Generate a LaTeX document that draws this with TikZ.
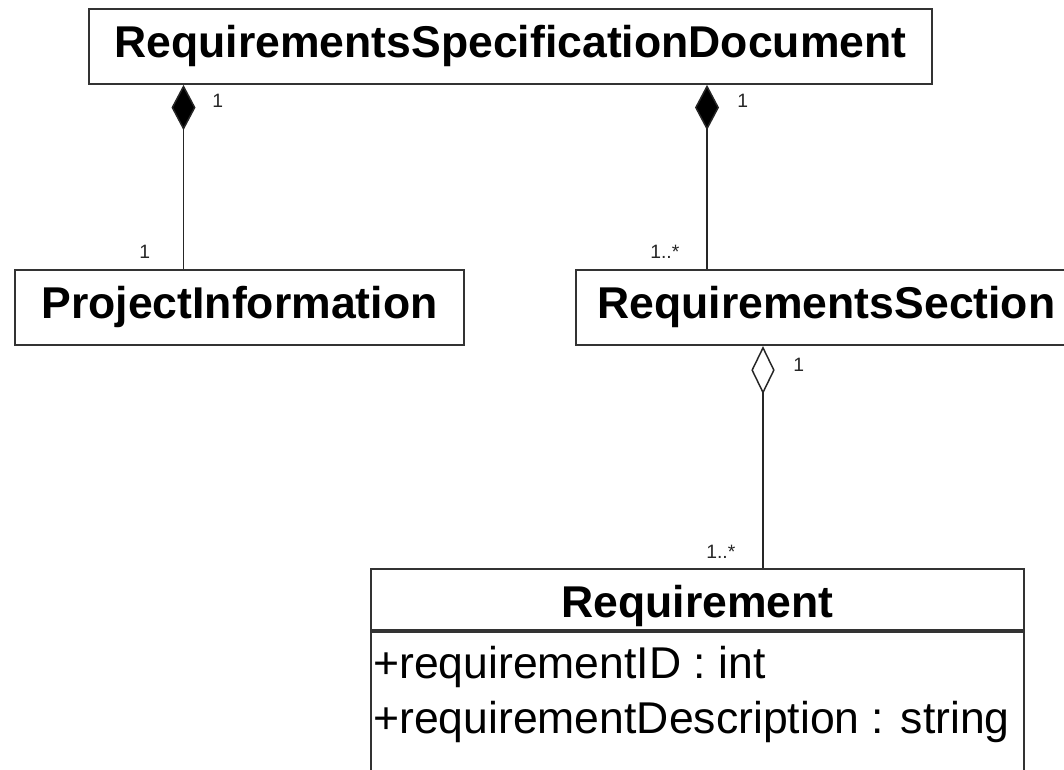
\documentclass[tikz,border=0pt]{standalone}
\usepackage{fontspec}
\setmainfont{Liberation Sans}
\usetikzlibrary{arrows.meta}
\tikzset{
  cls/.style={draw=black!80, line width=1.3pt, inner sep=0pt,
    font=\fontsize{33.4}{40}\selectfont\bfseries},
  attr/.style={inner sep=0pt, anchor=base west, font=\fontsize{33.4}{40}\selectfont},
  mult/.style={inner sep=0pt, anchor=base west, text=black!85,
    font=\fontsize{14.5}{17}\selectfont},
  comp/.style={draw=black!85, line width=1.1pt,
    {Diamond[length=34pt,width=18pt,fill=black]}-},
  aggr/.style={draw=black!85, line width=1.1pt,
    {Diamond[length=36pt,width=17.5pt,fill=white]}-},
}
\begin{document}
\begin{tikzpicture}[x=0.75pt,y=-0.75pt]
\useasboundingbox (0,0) rectangle (1064,770);
\clip (0,0) rectangle (1064,770);
\fill[white] (0,0) rectangle (1064,770);

% classes
\node[cls, minimum width=632.25pt, text height=36.75pt, text depth=19.5pt]
  (doc) at (510.5,46.5) {RequirementsSpecificationDocument};
\node[cls, minimum width=336.75pt, text height=36pt, text depth=20.25pt]
  (pi) at (239.5,307.75) {ProjectInformation};
\node[cls, minimum width=375.75pt, text height=36pt, text depth=20.25pt]
  (rs) at (826.5,307.75) {RequirementsSection};
\node[cls, minimum width=489.75pt, text height=36pt, text depth=9.75pt]
  (req) at (697.5,599.5) {Requirement};
\node[cls, anchor=north, minimum width=489.75pt, minimum height=150pt]
  (reqattr) at (req.south) {};
\node[attr] (a1) at (373,678) {+requirementID : int};
\node[attr] (a2) at (373,733) {+requirementDescription : string};

% connector x positions
\coordinate (xL) at (183.5,0);
\coordinate (xR) at (707,0);
\coordinate (xA) at (763,0);

\draw[comp] (doc.south -| xL) -- (pi.north -| xL);
\draw[comp] (doc.south -| xR) -- (rs.north -| xR);
\draw[aggr] (rs.south -| xA) -- (req.north -| xA);

% multiplicities
\node[mult] (m1) at (212,108) {1};
\node[mult] (m2) at (139,258) {1};
\node[mult] (m3) at (737,108) {1};
\node[mult] (m4) at (650,258) {1..*};
\node[mult] (m5) at (793,371) {1};
\node[mult] (m6) at (706,558) {1..*};
\end{tikzpicture}
\end{document}
